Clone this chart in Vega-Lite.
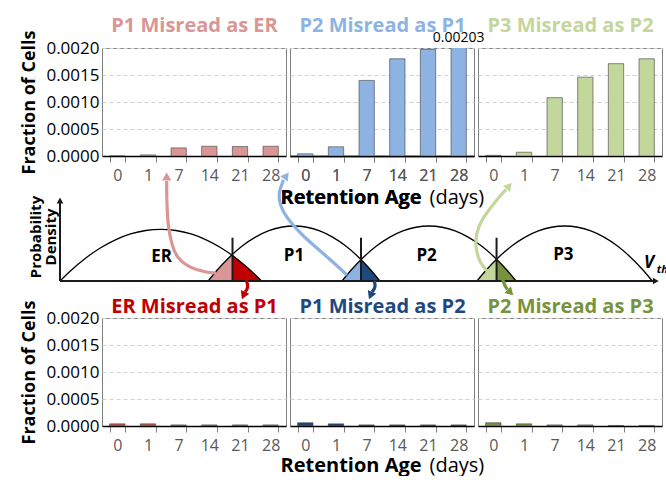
{
  "$schema": "https://vega.github.io/schema/vega-lite/v6.json",
  "padding": {"left": 20, "top": 14, "right": 0, "bottom": 0},
  "background": "white",
  "config": {
    "font": "Open Sans",
    "view": {"stroke": "#808080"},
    "axis": {"gridColor": "#d0d0d0", "gridDash": [4, 3], "gridWidth": 1},
    "axisX": {"tickBand": "extent", "labelAngle": 0, "labelFontSize": 16, "labelColor": "#595959", "tickColor": "#808080", "tickSize": 6, "labelPadding": 5, "domainColor": "#000000", "domainWidth": 1.5, "grid": false}
  },
  "datasets": {
    "bars": [
      {"panel": "P1 Misread as ER", "age": 0, "frac": 0},
      {"panel": "P1 Misread as ER", "age": 1, "frac": 0.00002},
      {"panel": "P1 Misread as ER", "age": 7, "frac": 0.00015},
      {"panel": "P1 Misread as ER", "age": 14, "frac": 0.00018},
      {"panel": "P1 Misread as ER", "age": 21, "frac": 0.000175},
      {"panel": "P1 Misread as ER", "age": 28, "frac": 0.00018},
      {"panel": "P2 Misread as P1", "age": 0, "frac": 0.00004},
      {"panel": "P2 Misread as P1", "age": 1, "frac": 0.00017},
      {"panel": "P2 Misread as P1", "age": 7, "frac": 0.0014},
      {"panel": "P2 Misread as P1", "age": 14, "frac": 0.0018},
      {"panel": "P2 Misread as P1", "age": 21, "frac": 0.001975},
      {"panel": "P2 Misread as P1", "age": 28, "frac": 0.00203},
      {"panel": "P3 Misread as P2", "age": 0, "frac": 0.000012},
      {"panel": "P3 Misread as P2", "age": 1, "frac": 0.00007},
      {"panel": "P3 Misread as P2", "age": 7, "frac": 0.00108},
      {"panel": "P3 Misread as P2", "age": 14, "frac": 0.00146},
      {"panel": "P3 Misread as P2", "age": 21, "frac": 0.00171},
      {"panel": "P3 Misread as P2", "age": 28, "frac": 0.0018},
      {"panel": "ER Misread as P1", "age": 0, "frac": 0.00004},
      {"panel": "ER Misread as P1", "age": 1, "frac": 0.00004},
      {"panel": "ER Misread as P1", "age": 7, "frac": 0.00002},
      {"panel": "ER Misread as P1", "age": 14, "frac": 0.00002},
      {"panel": "ER Misread as P1", "age": 21, "frac": 0.00002},
      {"panel": "ER Misread as P1", "age": 28, "frac": 0.00002},
      {"panel": "P1 Misread as P2", "age": 0, "frac": 0.00006},
      {"panel": "P1 Misread as P2", "age": 1, "frac": 0.00004},
      {"panel": "P1 Misread as P2", "age": 7, "frac": 0.00002},
      {"panel": "P1 Misread as P2", "age": 14, "frac": 0.00002},
      {"panel": "P1 Misread as P2", "age": 21, "frac": 0.00002},
      {"panel": "P1 Misread as P2", "age": 28, "frac": 0.00002},
      {"panel": "P2 Misread as P3", "age": 0, "frac": 0.00006},
      {"panel": "P2 Misread as P3", "age": 1, "frac": 0.00004},
      {"panel": "P2 Misread as P3", "age": 7, "frac": 0.00002},
      {"panel": "P2 Misread as P3", "age": 14, "frac": 0.00002},
      {"panel": "P2 Misread as P3", "age": 21, "frac": 0.00001},
      {"panel": "P2 Misread as P3", "age": 28, "frac": 0.00001}
    ],
    "curves": [
      {"curve": "ER", "v": 0, "d": 0}, {"curve": "ER", "v": 1.68, "d": 0.1115}, {"curve": "ER", "v": 4.2, "d": 0.2568}, {"curve": "ER", "v": 6.72, "d": 0.3757}, {"curve": "ER", "v": 9.24, "d": 0.4681}, {"curve": "ER", "v": 11.76, "d": 0.5342}, {"curve": "ER", "v": 14.28, "d": 0.5738}, {"curve": "ER", "v": 16.8, "d": 0.587}, {"curve": "ER", "v": 19.32, "d": 0.5738}, {"curve": "ER", "v": 21.84, "d": 0.5342}, {"curve": "ER", "v": 24.36, "d": 0.4681}, {"curve": "ER", "v": 26.88, "d": 0.3757}, {"curve": "ER", "v": 29.4, "d": 0.2568}, {"curve": "ER", "v": 31.92, "d": 0.1115}, {"curve": "ER", "v": 33.6, "d": 0},
      {"curve": "P1", "v": 24.7, "d": 0}, {"curve": "P1", "v": 26.13, "d": 0.1188}, {"curve": "P1", "v": 28.275, "d": 0.2734}, {"curve": "P1", "v": 30.42, "d": 0.4}, {"curve": "P1", "v": 32.565, "d": 0.4984}, {"curve": "P1", "v": 34.71, "d": 0.5688}, {"curve": "P1", "v": 36.855, "d": 0.6109}, {"curve": "P1", "v": 39, "d": 0.625}, {"curve": "P1", "v": 41.145, "d": 0.6109}, {"curve": "P1", "v": 43.29, "d": 0.5688}, {"curve": "P1", "v": 45.435, "d": 0.4984}, {"curve": "P1", "v": 47.58, "d": 0.4}, {"curve": "P1", "v": 49.725, "d": 0.2734}, {"curve": "P1", "v": 51.87, "d": 0.1188}, {"curve": "P1", "v": 53.3, "d": 0},
      {"curve": "P2", "v": 47.0, "d": 0}, {"curve": "P2", "v": 48.45, "d": 0.1188}, {"curve": "P2", "v": 50.625, "d": 0.2734}, {"curve": "P2", "v": 52.8, "d": 0.4}, {"curve": "P2", "v": 54.975, "d": 0.4984}, {"curve": "P2", "v": 57.15, "d": 0.5688}, {"curve": "P2", "v": 59.325, "d": 0.6109}, {"curve": "P2", "v": 61.5, "d": 0.625}, {"curve": "P2", "v": 63.675, "d": 0.6109}, {"curve": "P2", "v": 65.85, "d": 0.5688}, {"curve": "P2", "v": 68.025, "d": 0.4984}, {"curve": "P2", "v": 70.2, "d": 0.4}, {"curve": "P2", "v": 72.375, "d": 0.2734}, {"curve": "P2", "v": 74.55, "d": 0.1188}, {"curve": "P2", "v": 76.0, "d": 0},
      {"curve": "P3", "v": 69.5, "d": 0}, {"curve": "P3", "v": 70.96, "d": 0.1188}, {"curve": "P3", "v": 73.15, "d": 0.2734}, {"curve": "P3", "v": 75.34, "d": 0.4}, {"curve": "P3", "v": 77.53, "d": 0.4984}, {"curve": "P3", "v": 79.72, "d": 0.5688}, {"curve": "P3", "v": 81.91, "d": 0.6109}, {"curve": "P3", "v": 84.1, "d": 0.625}, {"curve": "P3", "v": 86.29, "d": 0.6109}, {"curve": "P3", "v": 88.48, "d": 0.5688}, {"curve": "P3", "v": 90.67, "d": 0.4984}, {"curve": "P3", "v": 92.86, "d": 0.4}, {"curve": "P3", "v": 95.05, "d": 0.2734}, {"curve": "P3", "v": 97.24, "d": 0.1188}, {"curve": "P3", "v": 98.7, "d": 0}
    ],
    "regions": [
      {"key": "P1→ER", "v": 24.7, "d": 0}, {"key": "P1→ER", "v": 25.5, "d": 0.068}, {"key": "P1→ER", "v": 26.5, "d": 0.148}, {"key": "P1→ER", "v": 27.5, "d": 0.221}, {"key": "P1→ER", "v": 28.75, "d": 0.297},
      {"key": "ER→P1", "v": 28.75, "d": 0.297}, {"key": "ER→P1", "v": 30, "d": 0.225}, {"key": "ER→P1", "v": 31, "d": 0.168}, {"key": "ER→P1", "v": 32, "d": 0.106}, {"key": "ER→P1", "v": 33, "d": 0.042}, {"key": "ER→P1", "v": 33.6, "d": 0},
      {"key": "P2→P1", "v": 47.0, "d": 0}, {"key": "P2→P1", "v": 47.8, "d": 0.067}, {"key": "P2→P1", "v": 48.6, "d": 0.13}, {"key": "P2→P1", "v": 49.4, "d": 0.19}, {"key": "P2→P1", "v": 50.17, "d": 0.244},
      {"key": "P1→P2", "v": 50.17, "d": 0.244}, {"key": "P1→P2", "v": 51, "d": 0.185}, {"key": "P1→P2", "v": 51.8, "d": 0.124}, {"key": "P1→P2", "v": 52.6, "d": 0.059}, {"key": "P1→P2", "v": 53.3, "d": 0},
      {"key": "P3→P2", "v": 69.5, "d": 0}, {"key": "P3→P2", "v": 70.3, "d": 0.067}, {"key": "P3→P2", "v": 71.1, "d": 0.13}, {"key": "P3→P2", "v": 71.9, "d": 0.189}, {"key": "P3→P2", "v": 72.76, "d": 0.248},
      {"key": "P2→P3", "v": 72.76, "d": 0.248}, {"key": "P2→P3", "v": 73.6, "d": 0.19}, {"key": "P2→P3", "v": 74.4, "d": 0.13}, {"key": "P2→P3", "v": 75.2, "d": 0.067}, {"key": "P2→P3", "v": 76, "d": 0}
    ],
    "rules": [
      {"v": 0, "d": 0, "v2": 99, "d2": 0},
      {"v": 0, "d": 0, "v2": 0, "d2": 0.9},
      {"v": 28.75, "d": 0, "v2": 28.75, "d2": 0.492},
      {"v": 50.17, "d": 0, "v2": 50.17, "d2": 0.492},
      {"v": 72.76, "d": 0, "v2": 72.76, "d2": 0.492}
    ],
    "vlabels": [
      {"v": 28.75, "sub": "a"}, {"v": 50.17, "sub": "b"}, {"v": 72.76, "sub": "c"}
    ],
    "names": [
      {"t": "ER", "v": 16.95, "d": 0.273}, {"t": "P1", "v": 39, "d": 0.284}, {"t": "P2", "v": 61.1, "d": 0.284}, {"t": "P3", "v": 83.9, "d": 0.3}
    ],
    "arrows": [
      {"key": "P1→ER", "i": 0, "v": 26.0, "d": 0.091}, {"key": "P1→ER", "i": 1, "v": 24.33, "d": 0.097}, {"key": "P1→ER", "i": 2, "v": 21.67, "d": 0.148}, {"key": "P1→ER", "i": 3, "v": 19.5, "d": 0.261}, {"key": "P1→ER", "i": 4, "v": 18.67, "d": 0.398}, {"key": "P1→ER", "i": 5, "v": 18.0, "d": 0.625}, {"key": "P1→ER", "i": 6, "v": 17.83, "d": 0.852}, {"key": "P1→ER", "i": 7, "v": 17.78, "d": 1.023}, {"key": "P1→ER", "i": 8, "v": 17.78, "d": 1.136},
      {"key": "P2→P1", "i": 0, "v": 47.83, "d": 0.068}, {"key": "P2→P1", "i": 1, "v": 45.5, "d": 0.216}, {"key": "P2→P1", "i": 2, "v": 43.0, "d": 0.364}, {"key": "P2→P1", "i": 3, "v": 40.5, "d": 0.511}, {"key": "P2→P1", "i": 4, "v": 38.5, "d": 0.659}, {"key": "P2→P1", "i": 5, "v": 37.17, "d": 0.784}, {"key": "P2→P1", "i": 6, "v": 36.5, "d": 0.909}, {"key": "P2→P1", "i": 7, "v": 36.5, "d": 1.023}, {"key": "P2→P1", "i": 8, "v": 37.25, "d": 1.148},
      {"key": "P3→P2", "i": 0, "v": 71.33, "d": 0.102}, {"key": "P3→P2", "i": 1, "v": 70.0, "d": 0.205}, {"key": "P3→P2", "i": 2, "v": 69.25, "d": 0.364}, {"key": "P3→P2", "i": 3, "v": 69.33, "d": 0.545}, {"key": "P3→P2", "i": 4, "v": 70.33, "d": 0.705}, {"key": "P3→P2", "i": 5, "v": 72.0, "d": 0.852}, {"key": "P3→P2", "i": 6, "v": 73.33, "d": 0.966}, {"key": "P3→P2", "i": 7, "v": 74.33, "d": 1.04},
      {"key": "ER→P1", "i": 0, "v": 31.0, "d": 0.011}, {"key": "ER→P1", "i": 1, "v": 31.33, "d": -0.04}, {"key": "ER→P1", "i": 2, "v": 31.25, "d": -0.091}, {"key": "ER→P1", "i": 3, "v": 30.83, "d": -0.125},
      {"key": "P1→P2", "i": 0, "v": 52.33, "d": 0}, {"key": "P1→P2", "i": 1, "v": 52.58, "d": -0.045}, {"key": "P1→P2", "i": 2, "v": 52.42, "d": -0.091}, {"key": "P1→P2", "i": 3, "v": 52.0, "d": -0.125},
      {"key": "P2→P3", "i": 0, "v": 73.67, "d": 0.068}, {"key": "P2→P3", "i": 1, "v": 73.83, "d": 0}, {"key": "P2→P3", "i": 2, "v": 74.17, "d": -0.057}, {"key": "P2→P3", "i": 3, "v": 74.58, "d": -0.097}
    ],
    "heads": [
      {"key": "P1→ER", "v": 17.78, "d": 1.1875, "dir": 0},
      {"key": "P2→P1", "v": 37.73, "d": 1.197, "dir": 35},
      {"key": "P3→P2", "v": 74.85, "d": 1.08, "dir": 40},
      {"key": "ER→P1", "v": 30.58, "d": -0.165, "dir": 203},
      {"key": "P1→P2", "v": 51.75, "d": -0.165, "dir": 203},
      {"key": "P2→P3", "v": 75.08, "d": -0.131, "dir": 135}
    ]
  },
  "concat": [
    {
      "width": 184, "height": 108,
      "data": {"name": "bars"},
      "transform": [{"filter": {"field": "panel", "equal": "P1 Misread as ER"}}],
      "encoding": {
        "x": {"field": "age", "type": "ordinal", "scale": {"paddingInner": 0.5, "paddingOuter": 0.25}, "axis": {"title": null}},
        "y": {"field": "frac", "type": "quantitative", "scale": {"domain": [0, 0.002], "nice": false}, "axis": {"values": [0, 0.0005, 0.001, 0.0015, 0.002], "format": ".4f", "labelFontSize": 17, "labelColor": "#000000", "labelPadding": 3, "domain": false, "ticks": false, "grid": true, "title": "Fraction of Cells", "titleFontSize": 18, "titleFontWeight": "bold", "titleColor": "#000000", "titlePadding": 7}}
      },
      "layer": [
        {"mark": {"type": "bar", "clip": true, "fill": "#d99694", "stroke": "#404040", "strokeWidth": 1, "strokeOpacity": 0.6}},
        {"mark": {"type": "bar", "opacity": 0}, "encoding": {"x": {"field": "age", "type": "ordinal", "axis": {"orient": "top", "labels": false, "ticks": false, "domain": false, "grid": false, "title": "P1 Misread as ER", "titleColor": "#d99694", "titleFontSize": 20, "titleFontWeight": "bold", "titleX": 92, "titleY": -17, "titleAlign": "center", "titleBaseline": "alphabetic"}}}}
      ],
      "resolve": {"axis": {"x": "independent"}}
    },
    {
      "width": 184, "height": 108,
      "data": {"name": "bars"},
      "transform": [{"filter": {"field": "panel", "equal": "P2 Misread as P1"}}],
      "encoding": {
        "x": {"field": "age", "type": "ordinal", "scale": {"paddingInner": 0.5, "paddingOuter": 0.25}, "axis": {"title": "Retention Age", "titleFontSize": 20, "titleFontWeight": "bold", "titleColor": "#000000", "titleX": -10, "titleY": 47, "titleAlign": "left", "titleBaseline": "alphabetic"}},
        "y": {"field": "frac", "type": "quantitative", "scale": {"domain": [0, 0.002], "nice": false}, "axis": {"values": [0, 0.0005, 0.001, 0.0015, 0.002], "labels": false, "domain": false, "ticks": false, "grid": true, "title": null}}
      },
      "layer": [
        {"mark": {"type": "bar", "clip": true, "fill": "#8db3e2", "stroke": "#404040", "strokeWidth": 1, "strokeOpacity": 0.6}},
        {"mark": {"type": "bar", "opacity": 0}, "encoding": {"x": {"field": "age", "type": "ordinal", "axis": {"orient": "top", "labels": false, "ticks": false, "domain": false, "grid": false, "title": "P2 Misread as P1", "titleColor": "#8db3e2", "titleFontSize": 20, "titleFontWeight": "bold", "titleX": 92, "titleY": -17, "titleAlign": "center", "titleBaseline": "alphabetic"}}}},
        {
          "transform": [{"filter": "datum.age == 28"}],
          "mark": {"type": "text", "baseline": "bottom", "dy": -1, "fontSize": 14, "color": "#000000"},
          "encoding": {"text": {"field": "frac", "type": "quantitative", "format": ".5f"}}
        }
      ],
      "resolve": {"axis": {"x": "independent"}}
    },
    {
      "width": 184, "height": 108,
      "data": {"name": "bars"},
      "transform": [{"filter": {"field": "panel", "equal": "P3 Misread as P2"}}],
      "encoding": {
        "x": {"field": "age", "type": "ordinal", "scale": {"paddingInner": 0.5, "paddingOuter": 0.25}, "axis": {"title": "(days)", "titleFontSize": 20, "titleFontWeight": "normal", "titleColor": "#000000", "titleX": -49, "titleY": 47, "titleAlign": "left", "titleBaseline": "alphabetic"}},
        "y": {"field": "frac", "type": "quantitative", "scale": {"domain": [0, 0.002], "nice": false}, "axis": {"values": [0, 0.0005, 0.001, 0.0015, 0.002], "labels": false, "domain": false, "ticks": false, "grid": true, "title": null}}
      },
      "layer": [
        {"mark": {"type": "bar", "clip": true, "fill": "#c3d69b", "stroke": "#404040", "strokeWidth": 1, "strokeOpacity": 0.6}},
        {"mark": {"type": "bar", "opacity": 0}, "encoding": {"x": {"field": "age", "type": "ordinal", "axis": {"orient": "top", "labels": false, "ticks": false, "domain": false, "grid": false, "title": "P3 Misread as P2", "titleColor": "#c3d69b", "titleFontSize": 20, "titleFontWeight": "bold", "titleX": 92, "titleY": -17, "titleAlign": "center", "titleBaseline": "alphabetic"}}}}
      ],
      "resolve": {"axis": {"x": "independent"}}
    },
    {
      "width": 184, "height": 88,
      "view": {"stroke": null},
      "encoding": {
        "x": {"field": "v", "type": "quantitative", "scale": {"domain": [7, 37.6667], "nice": false, "zero": false}, "axis": null},
        "y": {"field": "d", "type": "quantitative", "scale": {"domain": [0, 1], "nice": false, "zero": false}, "axis": null, "stack": null}
      },
      "layer": [
        {
          "data": {"name": "regions"},
          "mark": {"type": "area", "interpolate": "monotone", "opacity": 1},
          "encoding": {"color": {"field": "key", "type": "nominal", "scale": {"domain": ["P1→ER", "ER→P1", "P2→P1", "P1→P2", "P3→P2", "P2→P3"], "range": ["#d99694", "#c00000", "#8db3e2", "#1f497d", "#c3d69b", "#77933c"]}, "legend": null}}
        },
        {
          "data": {"name": "curves"},
          "mark": {"type": "line", "interpolate": "monotone", "color": "#000000", "strokeWidth": 1.3},
          "encoding": {"detail": {"field": "curve", "type": "nominal"}}
        },
        {
          "data": {"name": "rules"},
          "mark": {"type": "rule", "color": "#1a1a1a", "strokeWidth": 2},
          "encoding": {"x2": {"field": "v2"}, "y2": {"field": "d2"}}
        },
        {
          "data": {"values": [{"v": 0, "d": 0.915, "dir": 0}, {"v": 99.3, "d": 0, "dir": 90}]},
          "mark": {"type": "point", "shape": "triangle-up", "filled": true, "color": "#1a1a1a", "size": 45, "opacity": 1},
          "encoding": {"angle": {"field": "dir", "type": "quantitative", "scale": null}}
        },
        {
          "data": {"name": "vlabels"},
          "mark": {"type": "text", "text": "V", "fontStyle": "italic", "fontSize": 16, "dx": -4, "baseline": "middle", "align": "center", "color": "#000000"},
          "encoding": {"y": {"datum": 0.663}}
        },
        {
          "data": {"name": "vlabels"},
          "mark": {"type": "text", "fontStyle": "italic", "fontSize": 13, "dx": 5, "dy": 5, "baseline": "middle", "align": "center", "color": "#000000"},
          "encoding": {"y": {"datum": 0.663}, "text": {"field": "sub"}}
        },
        {
          "data": {"name": "names"},
          "mark": {"type": "text", "fontWeight": "bold", "fontSize": 17, "baseline": "middle", "align": "center", "color": "#000000"},
          "encoding": {"text": {"field": "t"}}
        },
        {
          "data": {"values": [{"t": "Probability\nDensity", "v": -4.08, "d": 0.5}]},
          "mark": {"type": "text", "lineBreak": "\n", "angle": 270, "fontWeight": "bold", "fontSize": 15, "lineHeight": 15, "baseline": "middle", "align": "center", "color": "#000000"},
          "encoding": {"text": {"field": "t"}}
        },
        {
          "data": {"values": [{"t": "V", "v": 98.17, "d": 0.199}]},
          "mark": {"type": "text", "fontWeight": "bold", "fontStyle": "italic", "fontSize": 17, "baseline": "middle", "align": "center", "color": "#000000"},
          "encoding": {"text": {"field": "t"}}
        },
        {
          "data": {"values": [{"t": "th", "v": 100.4, "d": 0.13}]},
          "mark": {"type": "text", "fontWeight": "bold", "fontStyle": "italic", "fontSize": 11, "baseline": "middle", "align": "center", "color": "#000000"},
          "encoding": {"text": {"field": "t"}}
        },
        {
          "data": {"name": "arrows"},
          "mark": {"type": "line", "interpolate": "basis", "strokeWidth": 3.2, "strokeCap": "butt"},
          "encoding": {
            "order": {"field": "i", "type": "quantitative"},
            "color": {"field": "key", "type": "nominal", "scale": {"domain": ["P1→ER", "ER→P1", "P2→P1", "P1→P2", "P3→P2", "P2→P3"], "range": ["#d99694", "#c00000", "#8db3e2", "#1f497d", "#c3d69b", "#77933c"]}, "legend": null}
          }
        },
        {
          "data": {"name": "heads"},
          "mark": {"type": "point", "shape": "triangle-up", "filled": true, "size": 85, "opacity": 1},
          "encoding": {
            "angle": {"field": "dir", "type": "quantitative", "scale": null},
            "color": {"field": "key", "type": "nominal", "scale": {"domain": ["P1→ER", "ER→P1", "P2→P1", "P1→P2", "P3→P2", "P2→P3"], "range": ["#d99694", "#c00000", "#8db3e2", "#1f497d", "#c3d69b", "#77933c"]}, "legend": null}
          }
        }
      ]
    },
    {
      "width": 1, "height": 1,
      "view": {"stroke": null},
      "data": {"values": [{"k": 1}]},
      "mark": {"type": "point", "opacity": 0}
    },
    {
      "width": 1, "height": 1,
      "view": {"stroke": null},
      "data": {"values": [{"k": 1}]},
      "mark": {"type": "point", "opacity": 0}
    },
    {
      "width": 184, "height": 108,
      "data": {"name": "bars"},
      "transform": [{"filter": {"field": "panel", "equal": "ER Misread as P1"}}],
      "encoding": {
        "x": {"field": "age", "type": "ordinal", "scale": {"paddingInner": 0.5, "paddingOuter": 0.25}, "axis": {"title": null}},
        "y": {"field": "frac", "type": "quantitative", "scale": {"domain": [0, 0.002], "nice": false}, "axis": {"values": [0, 0.0005, 0.001, 0.0015, 0.002], "format": ".4f", "labelFontSize": 17, "labelColor": "#000000", "labelPadding": 3, "domain": false, "ticks": false, "grid": true, "title": "Fraction of Cells", "titleFontSize": 18, "titleFontWeight": "bold", "titleColor": "#000000", "titlePadding": 7}}
      },
      "layer": [
        {"mark": {"type": "bar", "clip": true, "fill": "#c0504d", "stroke": "#404040", "strokeWidth": 1, "strokeOpacity": 0.6}},
        {"mark": {"type": "bar", "opacity": 0}, "encoding": {"x": {"field": "age", "type": "ordinal", "axis": {"orient": "top", "labels": false, "ticks": false, "domain": false, "grid": false, "title": "ER Misread as P1", "titleColor": "#c00000", "titleFontSize": 20, "titleFontWeight": "bold", "titleX": 92, "titleY": -6, "titleAlign": "center", "titleBaseline": "alphabetic"}}}}
      ],
      "resolve": {"axis": {"x": "independent"}}
    },
    {
      "width": 184, "height": 108,
      "data": {"name": "bars"},
      "transform": [{"filter": {"field": "panel", "equal": "P1 Misread as P2"}}],
      "encoding": {
        "x": {"field": "age", "type": "ordinal", "scale": {"paddingInner": 0.5, "paddingOuter": 0.25}, "axis": {"title": "Retention Age", "titleFontSize": 20, "titleFontWeight": "bold", "titleColor": "#000000", "titleX": -10, "titleY": 45, "titleAlign": "left", "titleBaseline": "alphabetic"}},
        "y": {"field": "frac", "type": "quantitative", "scale": {"domain": [0, 0.002], "nice": false}, "axis": {"values": [0, 0.0005, 0.001, 0.0015, 0.002], "labels": false, "domain": false, "ticks": false, "grid": true, "title": null}}
      },
      "layer": [
        {"mark": {"type": "bar", "clip": true, "fill": "#1f497d", "stroke": "#404040", "strokeWidth": 1, "strokeOpacity": 0.6}},
        {"mark": {"type": "bar", "opacity": 0}, "encoding": {"x": {"field": "age", "type": "ordinal", "axis": {"orient": "top", "labels": false, "ticks": false, "domain": false, "grid": false, "title": "P1 Misread as P2", "titleColor": "#1f497d", "titleFontSize": 20, "titleFontWeight": "bold", "titleX": 92, "titleY": -6, "titleAlign": "center", "titleBaseline": "alphabetic"}}}}
      ],
      "resolve": {"axis": {"x": "independent"}}
    },
    {
      "width": 184, "height": 108,
      "data": {"name": "bars"},
      "transform": [{"filter": {"field": "panel", "equal": "P2 Misread as P3"}}],
      "encoding": {
        "x": {"field": "age", "type": "ordinal", "scale": {"paddingInner": 0.5, "paddingOuter": 0.25}, "axis": {"title": "(days)", "titleFontSize": 20, "titleFontWeight": "normal", "titleColor": "#000000", "titleX": -49, "titleY": 45, "titleAlign": "left", "titleBaseline": "alphabetic"}},
        "y": {"field": "frac", "type": "quantitative", "scale": {"domain": [0, 0.002], "nice": false}, "axis": {"values": [0, 0.0005, 0.001, 0.0015, 0.002], "labels": false, "domain": false, "ticks": false, "grid": true, "title": null}}
      },
      "layer": [
        {"mark": {"type": "bar", "clip": true, "fill": "#77933c", "stroke": "#404040", "strokeWidth": 1, "strokeOpacity": 0.6}},
        {"mark": {"type": "bar", "opacity": 0}, "encoding": {"x": {"field": "age", "type": "ordinal", "axis": {"orient": "top", "labels": false, "ticks": false, "domain": false, "grid": false, "title": "P2 Misread as P3", "titleColor": "#77933c", "titleFontSize": 20, "titleFontWeight": "bold", "titleX": 92, "titleY": -6, "titleAlign": "center", "titleBaseline": "alphabetic"}}}}
      ],
      "resolve": {"axis": {"x": "independent"}}
    }
  ],
  "columns": 3,
  "align": "each",
  "spacing": {"row": 37, "column": 4},
  "bounds": "flush"
}
